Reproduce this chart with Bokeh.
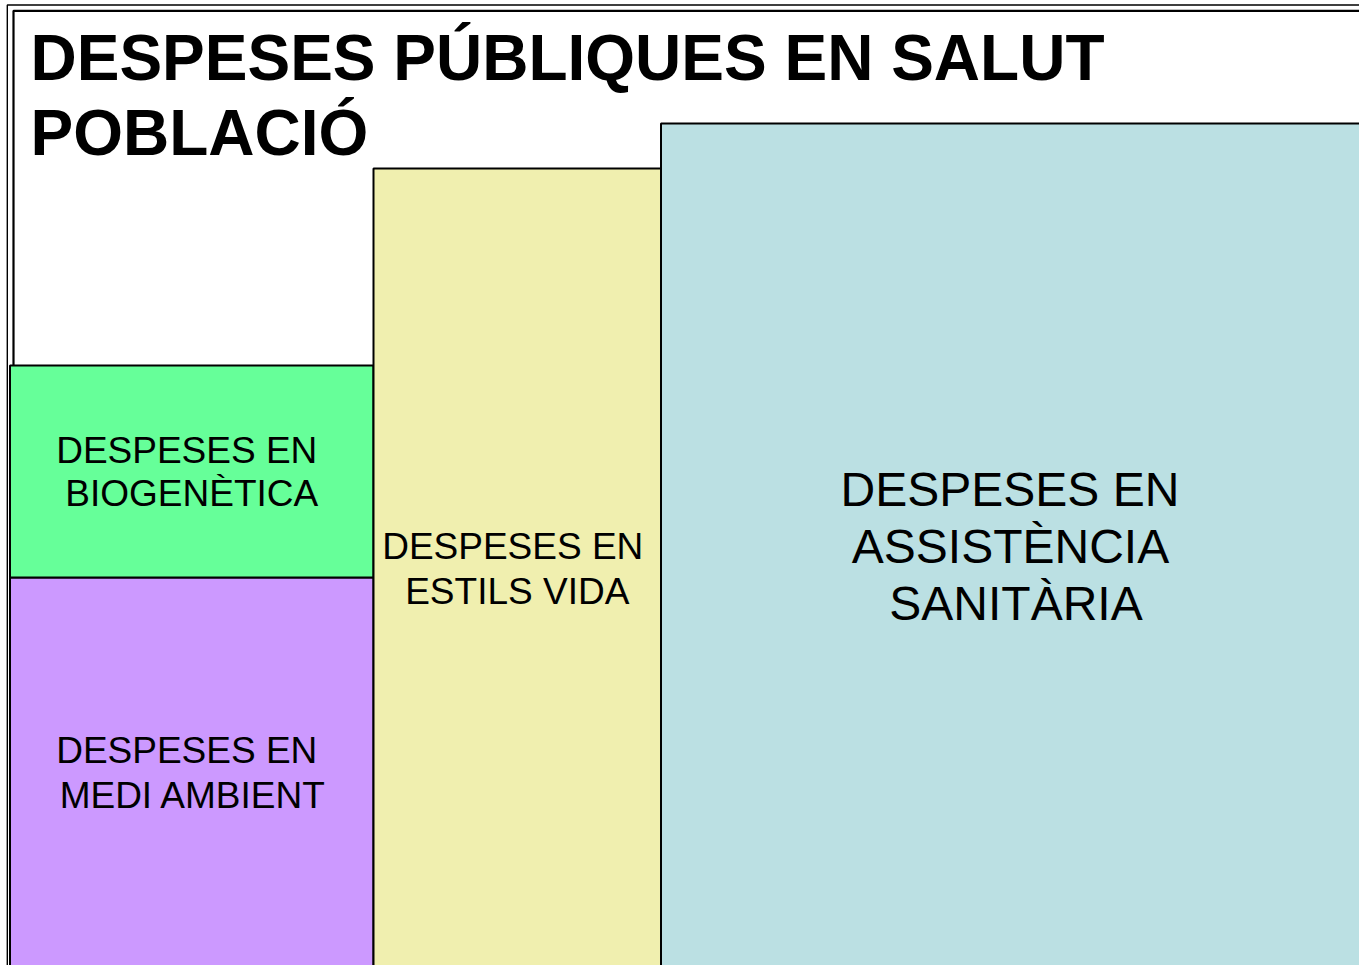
from bokeh.plotting import figure
from bokeh.models import Range1d, ColumnDataSource
from bokeh.core.properties import value
from bokeh.embed import file_html
from bokeh.resources import INLINE

# ---------------- data ----------------
title_lines = ["DESPESES PÚBLIQUES EN SALUT", "POBLACIÓ"]
categories = ["MEDI AMBIENT", "BIOGENÈTICA", "ESTILS VIDA", "ASSISTÈNCIA SANITÀRIA"]
column_of = [0, 0, 1, 2]                 # which column each block belongs to
column_widths = [363.5, 287.5, 705.0]    # width of each column
block_heights = [398, 212, 807, 852]     # height of each block (stacked within column)
label_lines = [
    ["DESPESES EN", "MEDI AMBIENT"],
    ["DESPESES EN", "BIOGENÈTICA"],
    ["DESPESES EN", "ESTILS VIDA"],
    ["DESPESES EN", "ASSISTÈNCIA", "SANITÀRIA"],
]

# ---------------- styles ----------------
colors = ["#CC99FF", "#66FF99", "#F0EFAF", "#BBE0E3"]
label_sizes = [37, 37, 37, 48]
label_pitch = [45, 43, 45, 57]
label_line_dx = [[-5, 1.5], [-5, 0], [-4.5, 0], [-3.5, -3, 2.5]]
label_dy = [2, 0.5, 2.5, 2.5]
baseline_fix = 0.36   # compensation of rendered baseline (fraction of font size)
W, H = 1359, 965
origin_x = 9.5
base_y = -10          # blocks start below the visible (cropped) bottom edge

p = figure(width=W, height=H, x_range=Range1d(0, W), y_range=Range1d(0, H),
           output_backend="svg", toolbar_location=None,
           x_axis_location=None, y_axis_location=None,
           min_border=0, background_fill_color="white", border_fill_color="white")
p.outline_line_color = None
p.grid.visible = False

# ---- decorative slide frame (double line) ----
p.line([6.8, 6.8, 2000], [-50, H - 4.5, H - 4.5], line_color="black", line_width=1.4)
p.line([13.0, 13.0, 2000], [-50, H - 10.3, H - 10.3], line_color="black", line_width=2.2)

# ---- blocks computed from data ----
col_left = []
acc = origin_x
for w in column_widths:
    col_left.append(acc)
    acc += w
col_stack = [float(base_y)] * len(column_widths)
lefts, rights, bottoms, tops = [], [], [], []
for c, h in zip(column_of, block_heights):
    lefts.append(col_left[c])
    rights.append(col_left[c] + column_widths[c])
    bottoms.append(col_stack[c])
    tops.append(col_stack[c] + h)
    col_stack[c] += h

src = ColumnDataSource(dict(left=lefts, right=rights, bottom=bottoms, top=tops,
                            color=colors, cat=categories))
p.quad(left="left", right="right", bottom="bottom", top="top", source=src,
       fill_color="color", line_color="black", line_width=2)

# ---- labels (centred in the visible part of each block) ----
tx, ty, tt, txo, tyo, tfs = [], [], [], [], [], []
for i, lines in enumerate(label_lines):
    cx = (lefts[i] + rights[i]) / 2
    cy = (max(bottoms[i], 0) + tops[i]) / 2
    n = len(lines)
    fs = label_sizes[i]
    cap = 0.716 * fs
    first = cap / 2 - (n - 1) * label_pitch[i] / 2 + label_dy[i] - baseline_fix * fs
    for k, line in enumerate(lines):
        tx.append(cx)
        ty.append(cy)
        tt.append(line)
        txo.append(label_line_dx[i][k])
        tyo.append(first + k * label_pitch[i])
        tfs.append(f"{fs}px")
lsrc = ColumnDataSource(dict(x=tx, y=ty, text=tt, xo=txo, yo=tyo, fs=tfs))
p.text(x="x", y="y", text="text", x_offset="xo", y_offset="yo", text_font_size="fs",
       source=lsrc, text_align="center", text_baseline="alphabetic",
       text_font=value("Liberation Sans"), text_color="black")

# ---- title ----
p.text(x=[30, 30], y=[H - 81, H - 156], text=title_lines,
       y_offset=-baseline_fix * 64,
       text_align="left", text_baseline="alphabetic",
       text_font=value("Liberation Sans"), text_font_style="bold",
       text_font_size="64px", text_color="black")

open("out.html", "w").write(file_html(p, INLINE))
